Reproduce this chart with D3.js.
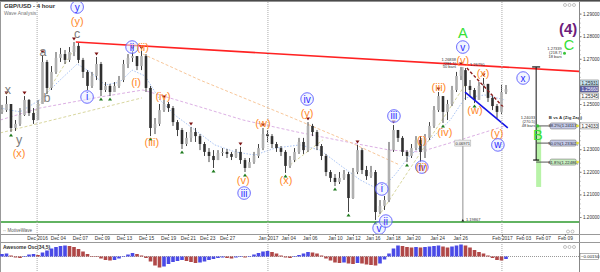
<!DOCTYPE html>
<html>
<head>
<meta charset="utf-8">
<script src="https://cdn.jsdelivr.net/npm/d3@7"></script>
<style>
	body { margin: 0; background: #fff; }
	svg { display: block; font-family: "Liberation Sans", Arial, sans-serif; }
</style>
</head>
<body>
<svg id="chart" width="600" height="272"></svg>
<script>
/* GBP/USD 4 hour bars */
const firstOpen = 1.2465;
const closes = [
	1.2473, 1.2500, 1.2394, 1.2412, 1.2451, 1.2518, 1.2460, 1.2429, 1.2500, 1.2686,
	1.2571, 1.2642, 1.2704, 1.2721, 1.2695, 1.2730, 1.2757, 1.2695, 1.2642, 1.2580,
	1.2624, 1.2677, 1.2562, 1.2580, 1.2553, 1.2580, 1.2606, 1.2677, 1.2704, 1.2712,
	1.2668, 1.2712, 1.2571, 1.2394, 1.2412, 1.2473, 1.2500, 1.2482, 1.2420, 1.2385,
	1.2323, 1.2350, 1.2376, 1.2358, 1.2323, 1.2288, 1.2270, 1.2252, 1.2283, 1.2288,
	1.2279, 1.2266, 1.2288, 1.2252, 1.2217, 1.2243, 1.2270, 1.2305, 1.2367, 1.2358,
	1.2323, 1.2305, 1.2288, 1.2226, 1.2252, 1.2288, 1.2332, 1.2296, 1.2403, 1.2376,
	1.2314, 1.2270, 1.2199, 1.2173, 1.2155, 1.2173, 1.2190, 1.2084, 1.2199, 1.2296,
	1.2208, 1.2181, 1.2199, 1.2022, 1.2049, 1.2075, 1.2296, 1.2385, 1.2350, 1.2288,
	1.2270, 1.2305, 1.2341, 1.2288, 1.2350, 1.2403, 1.2473, 1.2535, 1.2465, 1.2500,
	1.2562, 1.2624, 1.2650, 1.2580, 1.2562, 1.2518, 1.2580, 1.2589, 1.2527, 1.2491,
	1.2465, 1.2553, 1.2566
];
const highs = [
	1.2496, 1.2535, 1.2500, 1.2429, 1.2482, 1.2535, 1.2522, 1.2482, 1.2518, 1.2717,
	1.2695, 1.2668, 1.2730, 1.2748, 1.2739, 1.2752, 1.2774, 1.2770, 1.2704, 1.2650,
	1.2642, 1.2708, 1.2686, 1.2597, 1.2589, 1.2597, 1.2624, 1.2695, 1.2721, 1.2735,
	1.2712, 1.2735, 1.2721, 1.2580, 1.2438, 1.2500, 1.2518, 1.2509, 1.2491, 1.2429,
	1.2394, 1.2376, 1.2398, 1.2394, 1.2367, 1.2332, 1.2305, 1.2296, 1.2296, 1.2305,
	1.2301, 1.2288, 1.2301, 1.2310, 1.2261, 1.2261, 1.2288, 1.2323, 1.2394, 1.2385,
	1.2367, 1.2332, 1.2314, 1.2296, 1.2270, 1.2305, 1.2350, 1.2350, 1.2420, 1.2412,
	1.2385, 1.2323, 1.2279, 1.2208, 1.2190, 1.2199, 1.2208, 1.2199, 1.2217, 1.2319,
	1.2305, 1.2226, 1.2226, 1.2208, 1.2075, 1.2093, 1.2332, 1.2407, 1.2385, 1.2358,
	1.2296, 1.2323, 1.2358, 1.2358, 1.2367, 1.2420, 1.2491, 1.2553, 1.2535, 1.2518,
	1.2580, 1.2642, 1.2664, 1.2659, 1.2606, 1.2571, 1.2597, 1.2615, 1.2589, 1.2535,
	1.2500, 1.2584, 1.2584
];
const lows = [
	1.2456, 1.2465, 1.2376, 1.2381, 1.2403, 1.2447, 1.2447, 1.2412, 1.2429, 1.2500,
	1.2544, 1.2562, 1.2633, 1.2686, 1.2677, 1.2686, 1.2712, 1.2681, 1.2615, 1.2562,
	1.2571, 1.2606, 1.2535, 1.2553, 1.2535, 1.2553, 1.2571, 1.2597, 1.2659, 1.2686,
	1.2650, 1.2650, 1.2553, 1.2358, 1.2367, 1.2403, 1.2465, 1.2465, 1.2403, 1.2358,
	1.2301, 1.2314, 1.2332, 1.2332, 1.2296, 1.2270, 1.2243, 1.2217, 1.2252, 1.2270,
	1.2261, 1.2252, 1.2261, 1.2235, 1.2199, 1.2217, 1.2235, 1.2261, 1.2296, 1.2332,
	1.2305, 1.2288, 1.2270, 1.2195, 1.2217, 1.2243, 1.2279, 1.2279, 1.2288, 1.2358,
	1.2296, 1.2252, 1.2181, 1.2155, 1.2137, 1.2146, 1.2164, 1.2022, 1.2080, 1.2190,
	1.2190, 1.2164, 1.2173, 1.1987, 1.2013, 1.2031, 1.2066, 1.2288, 1.2332, 1.2270,
	1.2243, 1.2261, 1.2296, 1.2243, 1.2261, 1.2341, 1.2394, 1.2465, 1.2416, 1.2429,
	1.2491, 1.2553, 1.2606, 1.2518, 1.2535, 1.2504, 1.2518, 1.2553, 1.2509, 1.2473,
	1.2438, 1.2456, 1.2544
];
// Awesome Oscillator (34,5)
const aoValues = [
	0.0015, 0.0018, 0.0006, -0.0006, -0.0009, 0.0003, 0.0012, 0.0015, 0.0009, 0.0024,
	0.0036, 0.0048, 0.0057, 0.0063, 0.0066, 0.0063, 0.0057, 0.0045, 0.0030, 0.0015,
	0.0003, -0.0003, -0.0012, -0.0021, -0.0024, -0.0021, -0.0012, 0.0003, 0.0012, 0.0021,
	0.0015, 0.0006, -0.0009, -0.0030, -0.0054, -0.0066, -0.0060, -0.0045, -0.0033, -0.0027,
	-0.0021, -0.0027, -0.0033, -0.0039, -0.0036, -0.0030, -0.0021, -0.0015, -0.0009, -0.0006,
	-0.0009, -0.0012, -0.0006, -0.0003, -0.0006, 0.0003, 0.0012, 0.0021, 0.0030, 0.0033,
	0.0027, 0.0018, 0.0006, -0.0006, -0.0009, -0.0003, 0.0009, 0.0018, 0.0027, 0.0024,
	0.0018, 0.0006, -0.0012, -0.0024, -0.0036, -0.0039, -0.0036, -0.0042, -0.0045, -0.0039,
	-0.0042, -0.0048, -0.0051, -0.0054, -0.0042, -0.0018, 0.0018, 0.0048, 0.0066, 0.0063,
	0.0057, 0.0054, 0.0057, 0.0054, 0.0057, 0.0060, 0.0063, 0.0066, 0.0060, 0.0054,
	0.0060, 0.0066, 0.0072, 0.0066, 0.0054, 0.0039, 0.0027, 0.0018, 0.0006, -0.0009,
	-0.0021, -0.0024, -0.0015
];

// swing markers (bar index)
const peakBars = [1, 5, 9, 16, 21, 29, 31, 36, 42, 53, 58, 68, 79, 87, 97, 102, 107];
const troughBars = [2, 22, 24, 33, 40, 47, 54, 63, 74, 77, 83, 90, 93, 98, 105];

// date axis
const tickBars = [7.8, 12.4, 17.3, 22.2, 27.1, 32, 36.9, 41.3, 45.6, 50, 59.1, 63.6, 68.4, 74, 78, 82.4, 86.9, 91.3, 96.7, 101.8, 111.1, 115.8, 120.2, 125.1];
const tickLabels = ["Dec 2016", "Dec 04", "Dec 07", "Dec 09", "Dec 13", "Dec 15", "Dec 19", "Dec 21", "Dec 23", "Dec 27", "Jan 2017", "Jan 04", "Jan 06", "Jan 10", "Jan 12", "Jan 16", "Jan 18", "Jan 20", "Jan 24", "Jan 26", "Feb 2017", "Feb 03", "Feb 07", "Feb 09"];
const monthBars = [7.8, 59.1, 111.1];
const priceTicks = [1.20, 1.21, 1.22, 1.23, 1.24, 1.25, 1.26, 1.27, 1.28, 1.29];
const hiddenPriceLabels = [1.24, 1.26];

// wave labels: [text, bar, price, style]
const waveLabels = [
	["x", 1.3, 1.2562, "gray"], ["y", 3.8, 1.2341, "gray"], ["(x)", 3.8, 1.2283, "orange"],
	["a", 9.1, 1.2730, "gray"], ["b", 10, 1.2527, "gray"], ["c", 16.7, 1.2810, "gray"],
	["(y)", 16.7, 1.2867, "orange"], ["y", 16.7, 1.2929, "blue"],
	["i", 18.9, 1.2531, "blue"], ["ii", 28.9, 1.2752, "blue"], ["(ii)", 31.3, 1.2752, "orange"],
	["(i)", 29.8, 1.2597, "orange"], ["(iii)", 33.3, 1.2332, "orange"], ["(iv)", 35.8, 1.2535, "orange"],
	["(v)", 53.6, 1.2164, "orange"], ["iii", 53.8, 1.2106, "blue"],
	["(w)", 58, 1.2416, "orange"], ["(x)", 63.1, 1.2164, "orange"],
	["iv", 67.8, 1.2522, "blue"], ["(y)", 67.8, 1.2460, "orange"],
	["v", 83.8, 1.1951, "blue"], ["ii", 85.3, 1.1982, "blue"], ["i", 84.4, 1.2124, "blue"],
	["iii", 87.1, 1.2447, "blue"], ["(i)", 93.3, 1.2341, "orange"],
	["iv", 93.3, 1.2221, "blue"], ["(ii)", 93.3, 1.2221, "orange"],
	["(iii)", 97.1, 1.2575, "orange"], ["(iv)", 98.4, 1.2376, "orange"],
	["(v)", 102.4, 1.2695, "orange"], ["v", 102.4, 1.2752, "blue"], ["A", 102.4, 1.2814, "green"],
	["(w)", 105.1, 1.2473, "orange"], ["(x)", 106.9, 1.2637, "orange"],
	["(y)", 110, 1.2372, "orange"], ["w", 110.2, 1.2319, "blue"],
	["x", 115.8, 1.2615, "blue"], ["B", 119.1, 1.2363, "green"],
	["C", 126, 1.2761, "green"], ["(4)", 125.8, 1.2832, "purple"]
];

// overlay lines: [bar, price] points
const maFast = [[-0.4, 1.2482], [4, 1.2465], [8.4, 1.2518], [12.9, 1.2606], [16.7, 1.2677], [19.6, 1.2642], [22.9, 1.2584], [26.2, 1.2597], [28.9, 1.2650], [31.8, 1.2624], [35.1, 1.2518], [38.4, 1.2451], [42.9, 1.2385], [47.3, 1.2319], [51.8, 1.2288], [56.2, 1.2274], [60.7, 1.2305], [66.2, 1.2319], [70.7, 1.2296], [75.1, 1.2230], [79.6, 1.2164], [84, 1.2119], [87.3, 1.2186], [90.7, 1.2274], [95.1, 1.2341], [99.6, 1.2429], [102.9, 1.2527], [107.3, 1.2540], [111.8, 1.2518]];
const maSlow = [[-0.4, 1.2429], [8.4, 1.2482], [21.8, 1.2531], [31.3, 1.2562], [44, 1.2487], [53.6, 1.2429], [65.6, 1.2376], [76.7, 1.2332], [86.2, 1.2296], [92.9, 1.2288], [101.8, 1.2341], [111.8, 1.2403]];
const channelPeach = [[31.3, 1.2721], [44, 1.2606], [64, 1.2443], [76.2, 1.2341], [88.4, 1.2230]];
const khakiLines = [
	[[-0.4, 1.2372], [31.1, 1.2527]],
	[[6.9, 1.2451], [16.2, 1.2748]],
	[[64, 1.2230], [71.3, 1.2341]],
	[[83.6, 1.2000], [102.9, 1.2584]]
];
const redTrend = [[16.4, 1.2774], [128.4, 1.2644]];
const blueChannel = [[102.9, 1.2553], [112.4, 1.2394]];
const redDashed = [[103.3, 1.2659], [111.6, 1.2482]];
const supportLevel = 1.1978;

// fibonacci targets for wave B
const fibLevels = [
	["38.2%(1.24113)", 1.2403, "#c5cae8"],
	["50.0%(1.23302)", 1.2327, "#c5cae8"],
	["61.8%(1.22486)", 1.2243, "#c9efc0"]
];

/* Layout */
const svg = d3.select("#chart");
const plotRight = 579;
const plotTop = 2;
const plotBottom = 234;
const bodyW = 2.6;

const x = d3.scaleLinear().domain([0, 112]).range([2, 506]);
const y = d3.scaleLinear().domain([1.20, 1.29]).range([217, 13.6]);
const yAo = d3.scaleLinear().domain([-0.0075, 0.0075]).range([269, 244]);

const orange = "#ff8a2b";
const blue = "#2a2aff";

svg.append("rect").attr("width", 600).attr("height", 272).attr("fill", "#fff");

svg.append("defs").append("clipPath").attr("id", "plotClip")
	.append("rect").attr("x", 0).attr("y", plotTop).attr("width", plotRight).attr("height", plotBottom - plotTop);

const main = svg.append("g").attr("clip-path", "url(#plotClip)");

// month separators
svg.append("g").selectAll("line").data(monthBars).enter().append("line")
	.attr("x1", d => x(d)).attr("x2", d => x(d))
	.attr("y1", plotTop).attr("y2", 272)
	.attr("stroke", "#aaa").attr("stroke-dasharray", "1,1");

const line = d3.line().x(d => x(d[0])).y(d => y(d[1]));

main.append("path").attr("d", line(maFast)).attr("fill", "none")
	.attr("stroke", "#a9c4f5").attr("stroke-dasharray", "1.5,1.5");
main.append("path").attr("d", line(maSlow)).attr("fill", "none")
	.attr("stroke", "#dcb0e4").attr("stroke-dasharray", "3,2");
main.append("path").attr("d", line(channelPeach)).attr("fill", "none")
	.attr("stroke", "#f8c79a").attr("stroke-dasharray", "3,2");
main.selectAll(".khaki").data(khakiLines).enter().append("path")
	.attr("class", "khaki").attr("d", line).attr("fill", "none")
	.attr("stroke", "#d9d7a0").attr("stroke-dasharray", "3,2");

// support line
main.append("line")
	.attr("x1", 0).attr("x2", plotRight)
	.attr("y1", y(supportLevel)).attr("y2", y(supportLevel))
	.attr("stroke", "#2e9a2e").attr("stroke-width", 1.5);

// wave A measurement (grey vertical)
main.append("line")
	.attr("x1", x(102.4)).attr("x2", x(102.4))
	.attr("y1", y(1.2664)).attr("y2", y(1.1987))
	.attr("stroke", "#b5b5b5").attr("stroke-width", 1.5);

/* Candles */
const bars = closes.map(function(c, i) {
	let o = i === 0 ? firstOpen : closes[i - 1];
	return { i: i, o: o, c: c, h: Math.max(highs[i], o, c), l: Math.min(lows[i], o, c) };
});

const candle = main.append("g").selectAll("g").data(bars).enter().append("g");
candle.append("line")
	.attr("x1", d => x(d.i)).attr("x2", d => x(d.i))
	.attr("y1", d => y(d.h)).attr("y2", d => y(d.l))
	.attr("stroke", "#444").attr("stroke-width", 1);
candle.append("rect")
	.attr("x", d => x(d.i) - bodyW / 2)
	.attr("y", d => y(Math.max(d.o, d.c)))
	.attr("width", bodyW)
	.attr("height", d => Math.max(1, Math.abs(y(d.o) - y(d.c))))
	.attr("fill", d => d.c >= d.o ? "#b0b0b0" : "#303030");

// swing markers
main.selectAll(".peak").data(peakBars).enter().append("path")
	.attr("class", "peak")
	.attr("transform", d => `translate(${x(d)},${y(highs[d]) - 2.5})`)
	.attr("d", "M-2,-2L2,-2L0,1Z").attr("fill", "#7d1212");
main.selectAll(".trough").data(troughBars).enter().append("path")
	.attr("class", "trough")
	.attr("transform", d => `translate(${x(d)},${y(lows[d]) + 2.5})`)
	.attr("d", "M-2,2L2,2L0,-1Z").attr("fill", "#1d7a1d");

// trend lines
main.append("path").attr("d", line(redTrend)).attr("stroke", "#f22").attr("stroke-width", 1.6).attr("fill", "none");
main.append("path").attr("d", line(blueChannel)).attr("stroke", "#1414e8").attr("stroke-width", 1.6).attr("fill", "none");
main.append("path").attr("d", line(redDashed)).attr("stroke", "#8a1c1c").attr("stroke-width", 1.4)
	.attr("stroke-dasharray", "3,2").attr("fill", "none");

/* Wave B projection */
const mx = x(118.7);
const proj = main.append("g");
proj.append("rect").attr("x", mx).attr("width", 5)
	.attr("y", y(1.2403)).attr("height", y(1.2133) - y(1.2403))
	.attr("fill", "#b8f3a8");
proj.append("line").attr("x1", mx).attr("x2", mx)
	.attr("y1", y(1.2664)).attr("y2", y(1.2252)).attr("stroke", "#111");
proj.append("line").attr("x1", mx - 4).attr("x2", mx + 4)
	.attr("y1", y(1.2664)).attr("y2", y(1.2664)).attr("stroke", "#111").attr("stroke-width", 1.2);
proj.append("line").attr("x1", mx - 3).attr("x2", mx + 3)
	.attr("y1", y(1.2252)).attr("y2", y(1.2252)).attr("stroke", "#111").attr("stroke-width", 1.2);

const fib = proj.selectAll(".fib").data(fibLevels).enter().append("g").attr("class", "fib");
fib.append("line").attr("x1", mx).attr("x2", x(121.8))
	.attr("y1", d => y(d[1])).attr("y2", d => y(d[1])).attr("stroke", "#555");
fib.append("rect").attr("x", x(121.8)).attr("width", x(127.6) - x(121.8))
	.attr("y", d => y(d[1]) - 3).attr("height", 6).attr("rx", 1.5)
	.attr("fill", d => d[2]).attr("stroke", "#777").attr("stroke-width", 0.6);
fib.append("text").attr("x", (x(121.8) + x(127.6)) / 2).attr("y", d => y(d[1]) + 1.5)
	.attr("text-anchor", "middle").attr("font-size", 4.2).attr("fill", "#223")
	.text(d => d[0]);
fib.append("circle").attr("cx", x(127.9)).attr("cy", d => y(d[1])).attr("r", 1.4)
	.attr("fill", "#e8e23a");
proj.append("circle").attr("cx", mx + 1.5).attr("cy", y(1.2403)).attr("r", 1.6).attr("fill", "#3ac43a");

/* Small annotation texts */
const tiny = svg.append("g").attr("font-size", 4).attr("fill", "#333");
[["1.24033", 1.2433], ["(270.5)", 1.2416], ["48 bars", 1.2398]].forEach(function(t) {
	tiny.append("text").attr("x", mx - 1).attr("y", y(t[1])).attr("text-anchor", "end").text(t[0]);
});
[["1.27339", 1.2739], ["(218.7)", 1.2721], ["18 bars", 1.2703]].forEach(function(t) {
	tiny.append("text").attr("x", x(124.4)).attr("y", y(t[1])).attr("text-anchor", "end").text(t[0]);
});
tiny.append("circle").attr("cx", x(125)).attr("cy", y(1.2725)).attr("r", 1.5).attr("fill", "#3ac43a");
[["1.26838", 1.2690], ["(281.1)", 1.2674], ["50 bars", 1.2658]].forEach(function(t) {
	tiny.append("text").attr("x", x(100.9)).attr("y", y(t[1])).attr("text-anchor", "end").text(t[0]);
});
tiny.append("text").attr("x", x(104)).attr("y", y(1.2668)).text("1.26790");
tiny.append("text").attr("x", x(121.5)).attr("y", y(1.2432)).attr("font-weight", "bold").attr("font-size", 4.4)
	.text("B vs A (Zig Zag)");
tiny.append("rect").attr("x", x(102.4) - 8).attr("y", y(1.2327) - 3).attr("width", 16).attr("height", 6)
	.attr("fill", "#eee").attr("stroke", "#aaa").attr("stroke-width", 0.5);
tiny.append("text").attr("x", x(102.4)).attr("y", y(1.2327) + 1.5).attr("text-anchor", "middle").text("0.06971");
tiny.append("path").attr("transform", `translate(${x(102.4)},${y(1.1987)})`).attr("d", "M-1.5,1.5L1.5,1.5L0,-1Z").attr("fill", "#222");
tiny.append("text").attr("x", x(103.1)).attr("y", y(1.1987) + 1.5).text("1.19867");

/* Wave labels */
const lbl = svg.append("g").attr("clip-path", "url(#plotClip)");
const styles = {
	gray: { size: 12.5, fill: "#7c7c7c" },
	orange: { size: 11, fill: orange },
	blue: { size: 10, fill: blue },
	green: { size: 14.5, fill: "#35e035" },
	purple: { size: 15, fill: "#6e1d7c" }
};
waveLabels.forEach(function(d) {
	let s = styles[d[3]];
	let cx = x(d[1]);
	let cy = y(d[2]);
	if (d[3] === "blue") {
		lbl.append("circle").attr("cx", cx).attr("cy", cy).attr("r", 6.3)
			.attr("fill", "rgba(232,236,255,0.55)").attr("stroke", "#5b5bff").attr("stroke-width", 0.9);
	}
	lbl.append("text").attr("x", cx).attr("y", cy)
		.attr("text-anchor", "middle").attr("dominant-baseline", "central")
		.attr("font-size", s.size).attr("fill", s.fill)
		.attr("font-weight", d[3] === "purple" ? "bold" : "normal")
		.text(d[0]);
});

/* Price axis */
const pAxis = svg.append("g").attr("transform", `translate(${plotRight},0)`)
	.call(d3.axisRight(y).tickValues(priceTicks)
		.tickFormat(d => hiddenPriceLabels.indexOf(d) >= 0 ? "" : d3.format(".5f")(d))
		.tickSize(2.5).tickPadding(1.5));
pAxis.select(".domain").remove();
pAxis.selectAll("text").attr("font-size", 4.6).attr("fill", "#333");
pAxis.selectAll("line").attr("stroke", "#777");
svg.append("g").attr("transform", `translate(${plotRight},0)`)
	.call(d3.axisRight(y).ticks(45).tickFormat("").tickSize(1.5))
	.call(g => g.select(".domain").remove())
	.selectAll("line").attr("stroke", "#999");

// price boxes on the axis
const lastClose = closes[closes.length - 1];
const priceBoxes = [["1.25931", 1.2593, "#c7e6f3", "#222"], [d3.format(".5f")(lastClose), lastClose, "#5c5ca8", "#fff"], ["1.25345", 1.2535, "#fff", "#222"], ["1.24033", 1.2403, "#fff", "#222"]];
const pb = svg.append("g").selectAll("g").data(priceBoxes).enter().append("g");
pb.append("rect").attr("x", plotRight + 1).attr("y", d => y(d[1]) - 3).attr("width", 18.5).attr("height", 6)
	.attr("fill", d => d[2]).attr("stroke", "#666").attr("stroke-width", 0.5);
pb.append("text").attr("x", plotRight + 2.5).attr("y", d => y(d[1]) + 1.8).attr("font-size", 4.6)
	.attr("fill", d => d[3]).text(d => d[0]);

/* Frame */
svg.append("rect").attr("x", 0).attr("y", 0).attr("width", 600).attr("height", 1.6).attr("fill", "#4a4a4a");
svg.append("line").attr("x1", 0.5).attr("x2", 0.5).attr("y1", plotTop).attr("y2", 272).attr("stroke", "#999");
svg.append("line").attr("x1", plotRight + 0.5).attr("x2", plotRight + 0.5).attr("y1", plotTop).attr("y2", 272).attr("stroke", "#888");
svg.append("line").attr("x1", 0).attr("x2", 600).attr("y1", plotBottom + 0.5).attr("y2", plotBottom + 0.5).attr("stroke", "#999");
svg.append("line").attr("x1", 0).attr("x2", 600).attr("y1", 242.5).attr("y2", 242.5).attr("stroke", "#999");

svg.append("text").attr("x", 4).attr("y", 8).attr("font-size", 6).attr("font-weight", "bold").attr("fill", "#333").text("GBP/USD - 4 hour");
svg.append("text").attr("x", 4).attr("y", 15).attr("font-size", 5).attr("fill", "#777").text("Wave Analysis");
svg.append("text").attr("x", 3).attr("y", 232).attr("font-size", 4.5).attr("fill", "#555").text("\u25e6\u25e6 MotiveWave");

[[565, 5], [569.5, 5], [574, 5], [568, 231.5], [572.5, 231.5], [565, 247], [569.5, 247], [574, 247]].forEach(function(p) {
	svg.append("circle").attr("cx", p[0]).attr("cy", p[1]).attr("r", 1.5).attr("fill", "none").attr("stroke", "#999").attr("stroke-width", 0.6);
});

/* Date axis */
const dAxis = svg.append("g").attr("transform", `translate(0,${plotBottom})`)
	.call(d3.axisBottom(x).tickValues(tickBars).tickFormat((d, i) => tickLabels[i]).tickSize(2).tickPadding(1));
dAxis.select(".domain").remove();
dAxis.selectAll("text").attr("font-size", 4.8).attr("fill", "#333");
dAxis.selectAll("line").attr("stroke", "#777");

/* Awesome oscillator */
svg.append("line").attr("x1", 0).attr("x2", plotRight).attr("y1", yAo(0)).attr("y2", yAo(0))
	.attr("stroke", "#999").attr("stroke-dasharray", "1,1");
svg.append("g").selectAll("rect").data(aoValues).enter().append("rect")
	.attr("x", (d, i) => x(i) - 1.8)
	.attr("width", 3.6)
	.attr("y", d => yAo(Math.max(0, d)))
	.attr("height", d => Math.abs(yAo(d) - yAo(0)))
	.attr("fill", (d, i) => (i === 0 || d >= aoValues[i - 1]) ? "#4a4ae6" : "#b04848");
svg.append("text").attr("x", 3).attr("y", 249).attr("font-size", 5).attr("font-weight", "bold").attr("fill", "#333").text("Awesome Osc(34,5)");
svg.append("rect").attr("x", plotRight + 1).attr("y", yAo(0) - 3).attr("width", 18.5).attr("height", 6)
	.attr("fill", "#fff").attr("stroke", "#666").attr("stroke-width", 0.5);
svg.append("text").attr("x", plotRight + 2).attr("y", yAo(0) + 1.8).attr("font-size", 4.4).attr("fill", "#222")
	.text(d3.format(".5f")(aoValues[aoValues.length - 1]));
</script>
</body>
</html>
